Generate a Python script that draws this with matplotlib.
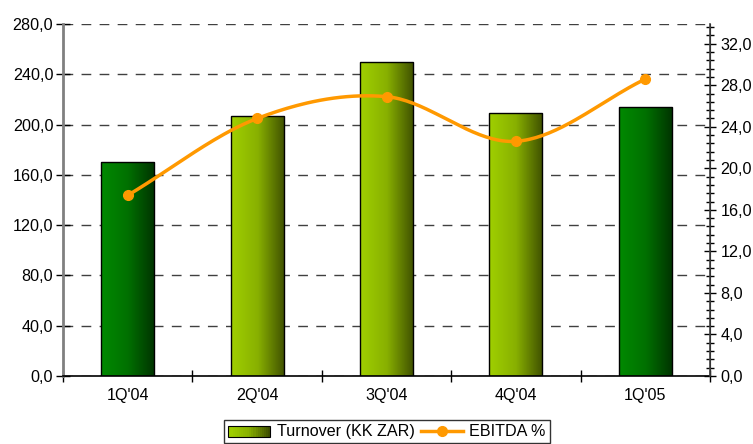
import numpy as np
import matplotlib
matplotlib.use("Agg")
import matplotlib.pyplot as plt
from matplotlib.patches import Rectangle
from matplotlib.lines import Line2D
from matplotlib.legend_handler import HandlerBase
from matplotlib.colors import LinearSegmentedColormap
from matplotlib.ticker import FuncFormatter, MultipleLocator

plt.rcParams['font.family'] = ['Liberation Sans', 'DejaVu Sans']

quarters = ["1Q'04", "2Q'04", "3Q'04", "4Q'04", "1Q'05"]
turnover = [170, 207, 250, 209, 214]
ebitda = [17.4, 24.8, 26.9, 22.6, 28.6]
bar_style = ["green", "lime", "lime", "lime", "green"]

gradients = {
    "green": LinearSegmentedColormap.from_list("g", ["#008a00", "#007000", "#003300"]),
    "lime": LinearSegmentedColormap.from_list("l", ["#a0d000", "#88b000", "#3f5000"]),
}
orange = "#ff9900"
fs = 11.6


def coma(v, pos):
    return ("%.1f" % v).replace(".", ",")


def smooth(xs, ys, n=40):
    # Catmull-Rom style curve through the points (like Excel smoothed lines)
    xs = np.asarray(xs, float)
    ys = np.asarray(ys, float)
    px = np.concatenate([[2 * xs[0] - xs[1]], xs, [2 * xs[-1] - xs[-2]]])
    py = np.concatenate([[2 * ys[0] - ys[1]], ys, [2 * ys[-1] - ys[-2]]])
    outx, outy = [], []
    t = np.linspace(0, 1, n)
    for i in range(1, len(px) - 2):
        for arr, out in ((px, outx), (py, outy)):
            p0, p1, p2, p3 = arr[i - 1], arr[i], arr[i + 1], arr[i + 2]
            c = 0.5 * ((2 * p1) + (-p0 + p2) * t + (2 * p0 - 5 * p1 + 4 * p2 - p3) * t ** 2
                       + (-p0 + 3 * p1 - 3 * p2 + p3) * t ** 3)
            out.extend(c)
    return np.array(outx), np.array(outy)


class GradientHandler(HandlerBase):
    def create_artists(self, legend, orig, xd, yd, w, h, fontsize, trans):
        cmap = gradients["lime"]
        arts = []
        n = 20
        for i in range(n):
            r = Rectangle((xd + w * i / n, yd), w / n, h, facecolor=cmap(i / (n - 1)),
                          edgecolor="none", transform=trans)
            arts.append(r)
        arts.append(Rectangle((xd, yd), w, h, facecolor="none", edgecolor="black",
                              linewidth=0.8, transform=trans))
        return arts


fig = plt.figure(figsize=(7.53, 4.44), dpi=100)
ax = fig.add_axes([0.0837, 0.1532, 0.9430 - 0.0837, 0.946 - 0.1532])
ax2 = ax.twinx()

x = np.arange(len(quarters))
width = 0.41

for i, (val, style) in enumerate(zip(turnover, bar_style)):
    bar = Rectangle((x[i] - width / 2, 0), width, val, facecolor="none",
                    edgecolor="black", linewidth=1.0, zorder=3)
    ax.add_patch(bar)
    grad = np.linspace(0, 1, 256).reshape(1, -1)
    im = ax.imshow(grad, cmap=gradients[style], aspect="auto", zorder=2,
                   extent=(x[i] - width / 2, x[i] + width / 2, 0, val))
    im.set_clip_path(bar)
ax.set_xlim(-0.5, len(quarters) - 0.5)
ax.set_ylim(0, 280)

ax.yaxis.set_major_locator(MultipleLocator(40))
ax.yaxis.set_major_formatter(FuncFormatter(coma))
ax.yaxis.grid(True, linestyle=(0, (7, 6)), color="#404040", linewidth=1.0, zorder=0)
ax.set_axisbelow(True)
ax.tick_params(axis="y", direction="inout", length=10, width=1, labelsize=fs, pad=2)

ax.set_xticks(np.arange(len(quarters) + 1) - 0.5)
ax.set_xticklabels([])
ax.set_xticks(x, minor=True)
ax.set_xticklabels(quarters, minor=True)
ax.tick_params(axis="x", which="major", direction="inout", length=9, width=1)
ax.tick_params(axis="x", which="minor", length=0, labelsize=fs, pad=9)

ax.spines["top"].set_visible(False)
ax.spines["left"].set_color("#808080")
ax.spines["left"].set_linewidth(2)
ax.spines["bottom"].set_color("black")
ax.spines["bottom"].set_linewidth(1.2)

cx, cy = smooth(x, ebitda)
ax2.plot(cx, cy, color=orange, linewidth=2.5, solid_capstyle="round", zorder=4)
ax2.plot(x, ebitda, "o", color=orange, markersize=7, zorder=5)
ax2.set_ylim(0, 33.9)
ax2.yaxis.set_major_locator(MultipleLocator(4))
ax2.yaxis.set_minor_locator(MultipleLocator(0.8))
ax2.yaxis.set_major_formatter(FuncFormatter(coma))
ax2.tick_params(axis="y", which="major", direction="inout", length=9, width=1, labelsize=fs, pad=3)
ax2.tick_params(axis="y", which="minor", direction="inout", length=6, width=1)
for s in ["top", "left", "bottom"]:
    ax2.spines[s].set_visible(False)
ax2.spines["right"].set_color("#404040")
ax2.spines["right"].set_linewidth(1.2)

handles = [Rectangle((0, 0), 1, 1),
           Line2D([], [], color=orange, linewidth=2.5, marker="o", markersize=7)]
leg = fig.legend(handles, ["Turnover (KK ZAR)", "EBITDA %"], loc="upper center",
                 bbox_to_anchor=(0.514, 0.054), ncol=2, fontsize=fs, frameon=True,
                 fancybox=False, handlelength=2.6, handleheight=0.6, handletextpad=0.4,
                 columnspacing=0.4, borderpad=0.25, borderaxespad=0,
                 handler_map={Rectangle: GradientHandler()})
leg.get_frame().set_edgecolor("black")
leg.get_frame().set_linewidth(1.0)

fig.savefig("out.png", dpi=100)
